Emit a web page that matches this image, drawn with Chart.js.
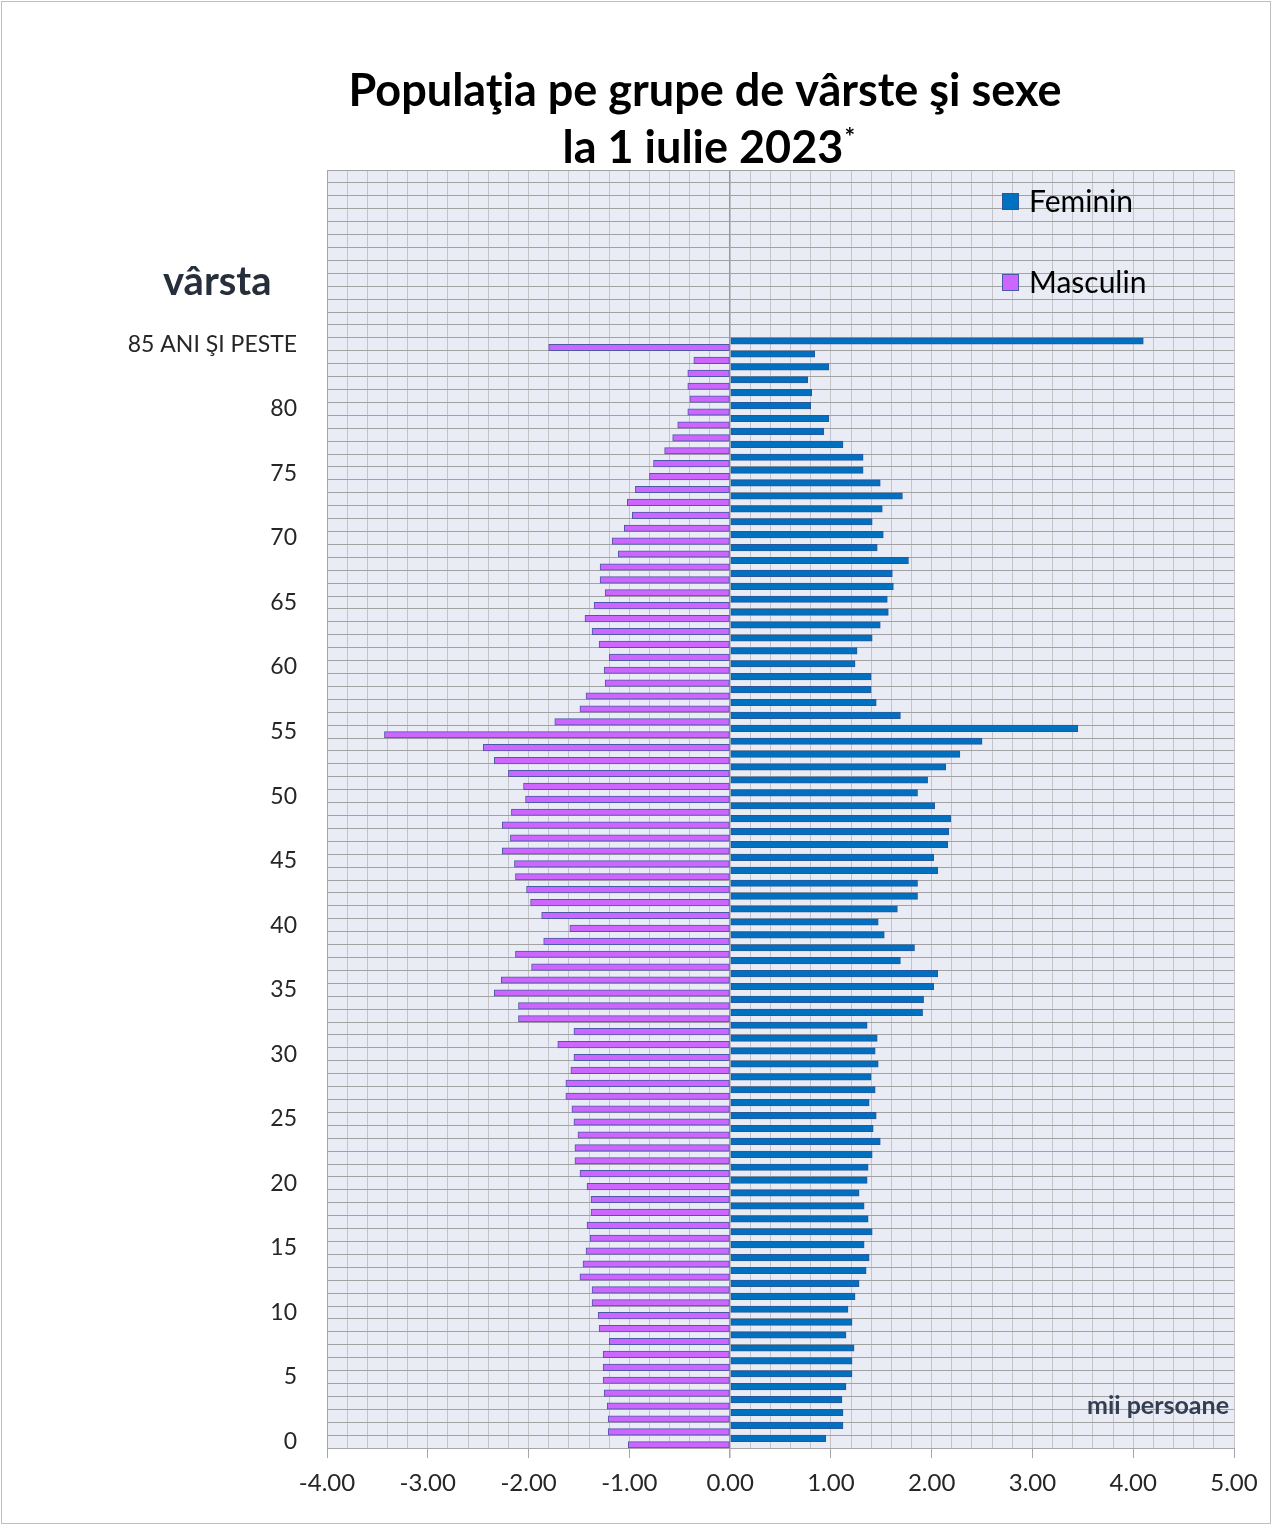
<!DOCTYPE html>
<html lang="ro">
<head>
<meta charset="utf-8">
<title>Populaţia pe grupe de vârste şi sexe</title>
<script src="https://cdn.jsdelivr.net/npm/chart.js@4.4.0/dist/chart.umd.min.js"></script>
<style>
    body { margin: 0; background: #fff; }
    #cadru { width: 1272px; height: 1525px; }
</style>
</head>
<body>
<div id="cadru"><canvas id="grafic" width="1272" height="1525"></canvas></div>
<script>
// varste de la 0 la 85+ (de jos in sus)
const varste = Array.from({ length: 85 }, (_, i) => String(i)).concat(["85 ANI ŞI PESTE"]);

// mii persoane, varsta 0 ... 85+
const feminin = [
    0.95, 1.12, 1.12, 1.11, 1.15, 1.21, 1.21, 1.23, 1.15, 1.21,
    1.17, 1.24, 1.28, 1.35, 1.38, 1.33, 1.41, 1.37, 1.33, 1.28,
    1.36, 1.37, 1.41, 1.49, 1.42, 1.45, 1.38, 1.44, 1.40, 1.47,
    1.44, 1.46, 1.36, 1.91, 1.92, 2.02, 2.06, 1.69, 1.83, 1.53,
    1.47, 1.66, 1.86, 1.86, 2.06, 2.02, 2.16, 2.17, 2.19, 2.03,
    1.86, 1.96, 2.14, 2.28, 2.50, 3.45, 1.69, 1.45, 1.40, 1.40,
    1.24, 1.26, 1.41, 1.49, 1.57, 1.56, 1.62, 1.61, 1.77, 1.46,
    1.52, 1.41, 1.51, 1.71, 1.49, 1.32, 1.32, 1.12, 0.93, 0.98,
    0.80, 0.81, 0.77, 0.98, 0.84, 4.10
];

const masculin = [
    -1.01, -1.21, -1.21, -1.22, -1.25, -1.26, -1.26, -1.26, -1.20, -1.30,
    -1.31, -1.37, -1.37, -1.49, -1.46, -1.43, -1.39, -1.42, -1.38, -1.38,
    -1.42, -1.49, -1.54, -1.54, -1.51, -1.55, -1.57, -1.63, -1.63, -1.58,
    -1.55, -1.71, -1.55, -2.10, -2.10, -2.34, -2.27, -1.97, -2.13, -1.85,
    -1.59, -1.87, -1.98, -2.02, -2.13, -2.14, -2.26, -2.18, -2.26, -2.17,
    -2.03, -2.05, -2.20, -2.34, -2.45, -3.43, -1.74, -1.49, -1.43, -1.24,
    -1.25, -1.20, -1.30, -1.37, -1.44, -1.35, -1.24, -1.29, -1.29, -1.11,
    -1.17, -1.05, -0.97, -1.02, -0.94, -0.80, -0.76, -0.65, -0.57, -0.52,
    -0.42, -0.40, -0.42, -0.42, -0.36, -1.80
];

// randuri goale deasupra grupei 85+
const randuriLibere = 13;
const etichete = varste.concat(Array(randuriLibere).fill(""));

const FONT = "Lato, 'Open Sans', sans-serif";

const fundal = {
    id: "fundal",
    beforeDraw(chart) {
        const { ctx, chartArea: a } = chart;
        ctx.save();
        ctx.fillStyle = "#fff";
        ctx.fillRect(0, 0, chart.width, chart.height);
        ctx.fillStyle = "#E9EBF5";
        ctx.fillRect(a.left, a.top, a.right - a.left, a.bottom - a.top);
        ctx.restore();
    }
};

const texte = {
    id: "texte",
    afterDraw(chart) {
        const ctx = chart.ctx;
        ctx.save();
        ctx.strokeStyle = "#BFBFBF";
        ctx.lineWidth = 1;
        ctx.strokeRect(1.5, 1.5, chart.width - 3, chart.height - 3);

        // titlu
        ctx.fillStyle = "#000";
        ctx.textBaseline = "alphabetic";
        ctx.textAlign = "center";
        ctx.font = "bold 45px " + FONT;
        ctx.fillText("Populaţia pe grupe de vârste şi sexe", 705, 106);
        const rand2 = "la 1 iulie 2023";
        ctx.fillText(rand2, 703, 163);
        const w = ctx.measureText(rand2).width;
        ctx.textAlign = "left";
        ctx.font = "bold 25px " + FONT;
        ctx.fillText("*", 703 + w / 2 + 1, 146);

        ctx.fillStyle = "#262F3B";
        ctx.font = "bold 40px " + FONT;
        ctx.fillText("vârsta", 163, 295);

        ctx.fillStyle = "#333F50";
        ctx.textAlign = "right";
        ctx.font = "bold 25px " + FONT;
        ctx.fillText("mii persoane", 1229, 1414);

        // legenda
        ctx.textAlign = "left";
        ctx.textBaseline = "middle";
        ctx.font = "30px " + FONT;
        chart.data.datasets.forEach((ds, i) => {
            const y = i === 0 ? 201 : 282;
            ctx.fillStyle = ds.backgroundColor;
            ctx.fillRect(1002, y - 8, 17, 17);
            ctx.strokeStyle = ds.borderColor;
            ctx.strokeRect(1002.5, y - 7.5, 16, 16);
            ctx.fillStyle = "#000";
            ctx.fillText(ds.label, 1029, y + 1);
        });
        ctx.restore();
    }
};

const esteIntreg = v => Math.abs(v - Math.round(v)) < 1e-6;

new Chart(document.getElementById("grafic"), {
    type: "bar",
    data: {
        labels: etichete,
        datasets: [
            {
                label: "Feminin",
                data: feminin,
                backgroundColor: "#0070C0",
                borderColor: "#2B579A",
                borderWidth: 1,
                borderSkipped: false
            },
            {
                label: "Masculin",
                data: masculin,
                backgroundColor: "#CC66FF",
                borderColor: "#4B5AA6",
                borderWidth: 1,
                borderSkipped: false
            }
        ]
    },
    options: {
        indexAxis: "y",
        responsive: false,
        animation: false,
        layout: { padding: { top: 170, right: 38, left: 0, bottom: 0 } },
        datasets: { bar: { categoryPercentage: 1, barPercentage: 1 } },
        plugins: { legend: { display: false }, tooltip: { enabled: false } },
        scales: {
            x: {
                min: -4,
                max: 5,
                ticks: {
                    stepSize: 0.2,
                    autoSkip: false,
                    maxRotation: 0,
                    padding: 11,
                    color: "#262626",
                    font: { family: FONT, size: 24 },
                    callback: v => esteIntreg(v) ? v.toFixed(2) : ""
                },
                grid: {
                    color: c => Math.abs(c.tick.value) < 1e-6 ? "#9A9A9A" : "#C4C4C8",
                    lineWidth: c => Math.abs(c.tick.value) < 1e-6 ? 1.5 : 1,
                    tickLength: 10,
                    tickColor: c => esteIntreg(c.tick.value) ? "#A6A6A6" : "rgba(0,0,0,0)"
                },
                border: { color: "#A6A6A6" },
                afterFit: s => { s.height = 77; }
            },
            y: {
                reverse: true,
                ticks: {
                    autoSkip: false,
                    padding: 30,
                    color: "#262626",
                    font: { family: FONT, size: 23 },
                    callback: (v, i) => (i % 5 === 0 || i === 85) ? etichete[i] : ""
                },
                grid: { color: "#A2A2A2", drawTicks: false, offset: true },
                border: { color: "#A6A6A6" },
                afterFit: s => { s.width = 327; }
            }
        }
    },
    plugins: [fundal, texte]
});
</script>
</body>
</html>
